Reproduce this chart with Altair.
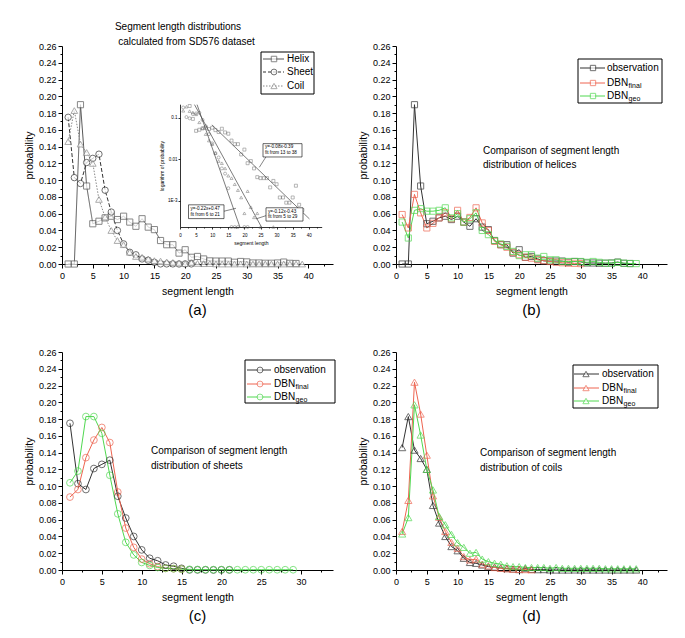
import altair as alt
import pandas as pd

FONT = "Liberation Sans"

# ---------------- data: probability for segment length 1, 2, 3, ... ----------------
helix_obs = [0.000, 0.000, 0.190, 0.093, 0.048, 0.051, 0.055, 0.057, 0.053, 0.057,
             0.050, 0.045, 0.054, 0.044, 0.041, 0.028, 0.023, 0.023, 0.013, 0.017,
             0.008, 0.009, 0.006, 0.0037, 0.0035, 0.0035, 0.0035, 0.0021, 0.003, 0.0025,
             0.0012, 0.0012, 0.0009, 0.0009, 0.0012, 0.0023, 0.0008, 0.0006]
sheet_obs = [0.175, 0.103, 0.096, 0.121, 0.126, 0.131, 0.088, 0.062, 0.040, 0.024,
             0.014, 0.011, 0.006, 0.0045, 0.0020, 0.0001, 0.0001, 0.0001, 0.0, 0.0001, 0.0001]
coil_obs = [0.146, 0.183, 0.143, 0.133, 0.120, 0.077, 0.056, 0.040, 0.028, 0.023,
            0.014, 0.009, 0.008, 0.006, 0.004, 0.0035, 0.0025, 0.0018, 0.0012, 0.0005,
            0.0017, 0.0007, 0.0004, 0.0005, 0.0001, 0.0, 0.0, 0.0, 0.0001, 0.0,
            0.0, 0.0, 0.0, 0.0, 0.0, 0.0, 0.0, 0.0, 0.0]

helix_final = [0.059, 0.043, 0.083, 0.061, 0.043, 0.0485, 0.055, 0.061, 0.054, 0.064,
               0.050, 0.0555, 0.067, 0.049, 0.040, 0.027, 0.023, 0.020, 0.014, 0.011,
               0.008, 0.007, 0.005, 0.004, 0.003, 0.002, 0.0015, 0.001, 0.0008, 0.0005]
helix_geo = [0.050, 0.031, 0.064, 0.066, 0.063, 0.063, 0.064, 0.067, 0.055, 0.060,
             0.050, 0.054, 0.061, 0.040, 0.035, 0.028, 0.024, 0.021, 0.015, 0.010,
             0.011, 0.011, 0.007, 0.009, 0.005, 0.005, 0.003, 0.003, 0.003, 0.003,
             0.002, 0.003, 0.002, 0.001, 0.001, 0.002, 0.001, 0.0005, 0.0005]

sheet_final = [0.087, 0.096, 0.134, 0.155, 0.170, 0.152, 0.093, 0.050, 0.027, 0.013,
               0.0075, 0.004, 0.002, 0.0015, 0.001]
sheet_geo = [0.104, 0.118, 0.183, 0.183, 0.163, 0.113, 0.067, 0.033, 0.018, 0.009,
             0.0055, 0.003, 0.002, 0.0015, 0.001, 0.0008, 0.0006, 0.0005, 0.0004, 0.0004,
             0.0004, 0.0003, 0.0003, 0.0003, 0.0003, 0.0003, 0.0003, 0.0003, 0.0003]

coil_final = [0.046, 0.083, 0.224, 0.186, 0.137, 0.0885, 0.063, 0.046, 0.033, 0.026,
              0.016, 0.012, 0.013, 0.007, 0.005, 0.003, 0.002, 0.0015, 0.001, 0.0008,
              0.0005, 0.0003]
coil_geo = [0.043, 0.0625, 0.197, 0.161, 0.120, 0.0955, 0.064, 0.054, 0.0425, 0.0325,
            0.027, 0.020, 0.021, 0.013, 0.010, 0.008, 0.007, 0.005, 0.004, 0.004,
            0.003, 0.003, 0.003, 0.003, 0.002, 0.003, 0.002, 0.002, 0.002, 0.002,
            0.002, 0.002, 0.002, 0.0015, 0.0015, 0.0015, 0.0015, 0.0015, 0.0015]

# straight-line fits drawn in the log inset: (segment length, probability) end points
fit_names = ["helix fit", "sheet fit", "coil fit"]
fit_x = [[9.9, 40.2], [5.3, 18.6], [4.5, 25.3]]
fit_y = [[0.067, 3.66e-4], [0.205, 2.34e-4], [0.205, 2.34e-4]]
fit_text = [["y=-0.08x-0.39", "fit from 13 to 38"],
            ["y=-0.22x+0.47", "fit from 6 to 21"],
            ["y=-0.12x-0.43", "fit from 5 to 29"]]

# ---------------- layout constants ----------------
PW, PH = 271, 218
OBS, RED, GREEN = "#333333", "#ee6450", "#50d850"
one = alt.Data(values=[{"a": 1}])


def long_df(names, arrays):
    rows = []
    for n, arr in zip(names, arrays):
        for i, v in enumerate(arr):
            rows.append({"series": n, "x": i + 1, "y": v})
    return pd.DataFrame(rows)


def x_enc(xmax):
    vals = []
    v = 0.0
    while v <= xmax:
        vals.append(v)
        v += 2.5
    return alt.X("x:Q", scale=alt.Scale(domain=[0, xmax], nice=False, zero=False),
                 axis=alt.Axis(orient="bottom", values=vals, title="segment length",
                               labelExpr="datum.value % 5 == 0 ? format(datum.value, 'd') : ''",
                               tickSize={"condition": {"test": "datum.value % 5 == 0", "value": 4}, "value": 2},
                               labelFontSize=9, labelPadding=3, titleFontSize=10.5, titlePadding=6,
                               labelFlush=False, labelOverlap=False))


def y_enc():
    vals = [round(i * 0.01, 2) for i in range(27)]
    return alt.Y("y:Q", scale=alt.Scale(domain=[0, 0.26], nice=False),
                 axis=alt.Axis(orient="left", values=vals, title="probability",
                               labelExpr="round(datum.value*100) % 2 == 0 ? format(datum.value, '.2f') : ''",
                               tickSize={"condition": {"test": "round(datum.value*100) % 2 == 0", "value": 4}, "value": 2},
                               labelFontSize=9, labelPadding=2, titleFontSize=10.5, titlePadding=4,
                               labelFlush=False, labelOverlap=False))


def d_text(txt, x, y, size=10, align="left", color="black"):
    return alt.Chart(one).mark_text(text=txt, align=align, baseline="middle", font=FONT,
                                    fontSize=size, color=color).encode(x=alt.value(x), y=alt.value(y))


def d_rect(x0, y0, x1, y1, sw=1):
    return alt.Chart(one).mark_rect(fill="white", stroke="black", strokeWidth=sw).encode(
        x=alt.value(x0), x2=alt.value(x1), y=alt.value(y0), y2=alt.value(y1))


def d_rule(x0, y0, x1, y1, color="black", dash=None, sw=1):
    kw = dict(color=color, strokeWidth=sw)
    if dash:
        kw["strokeDash"] = dash
    return alt.Chart(one).mark_rule(**kw).encode(
        x=alt.value(x0), x2=alt.value(x1), y=alt.value(y0), y2=alt.value(y1))


def d_point(x, y, shape, color, size):
    return alt.Chart(one).mark_point(shape=shape, strokeWidth=1).encode(
        x=alt.value(x), y=alt.value(y), fill=alt.value("white"), stroke=alt.value(color),
        size=alt.value(size))


def legend_layers(box, entries, lx0, lx1, mx, tx):
    layers = [d_rect(*box)]
    for label, sub, color, dash, shape, size, yy in entries:
        layers.append(d_rule(lx0, yy, lx1, yy, color, dash))
        layers.append(d_point(mx, yy, shape, color, size))
        layers.append(d_text(label, tx, yy, 10))
        if sub:
            layers.append(d_text(sub, tx + 21.6, yy + 2.5, 7))
    return layers


# ---------------- panel (a) ----------------
names_a = ["Helix", "Sheet", "Coil"]
df_a = long_df(names_a, [helix_obs, sheet_obs, coil_obs])
col_a = alt.Color("series:N", scale=alt.Scale(domain=names_a, range=["#555555", "#333333", "#888888"]), legend=None)
stroke_a = alt.Stroke("series:N", scale=alt.Scale(domain=names_a, range=["#555555", "#333333", "#888888"]), legend=None)
dash_a = alt.StrokeDash("series:N", scale=alt.Scale(domain=names_a, range=[[1, 0], [4, 2], [1.5, 1.5]]), legend=None)
shape_a = alt.Shape("series:N", scale=alt.Scale(domain=names_a, range=["square", "circle", "triangle-up"]), legend=None)
size_a = alt.Size("series:N", scale=alt.Scale(domain=names_a, range=[38, 44, 50]), legend=None)

Xa, Ya = x_enc(44), y_enc()
lines_a = alt.Chart(df_a).mark_line(strokeWidth=1).encode(x=Xa, y=Ya, color=col_a, strokeDash=dash_a)
pts_a = alt.Chart(df_a).mark_point(strokeWidth=1).encode(x=Xa, y=Ya, stroke=stroke_a, shape=shape_a,
                                                         size=size_a, fill=alt.value("white"))


def P(px, py):  # position inside panel (a) measured on the reference picture
    return px - 61, (py - 48) * PH / 221


deco_a = [
    d_text("Segment length distributions", 116, P(0, 29)[1], 10, "center"),
    d_text("calculated from SD576 dataset", 124.5, P(0, 44)[1], 10, "center"),
]
deco_a += legend_layers(
    (199, 6, 252, 48),
    [("Helix", "", "#555555", None, "square", 30, 13),
     ("Sheet", "", "#333333", [3, 2], "circle", 34, 26),
     ("Coil", "", "#888888", [1.5, 1.5], "triangle-up", 38, 40)],
    201, 222, 212, 225)
main_a = alt.layer(lines_a, pts_a, *deco_a)

# inset (log scale)
ix0, ix1 = P(179, 0)[0], P(179 + 44 * 3.22, 0)[0]
iy0, iy1 = P(0, 231.5)[1], P(0, 107)[1]
inset_df = df_a[df_a["y"] > 0]
IX = alt.X("x:Q", scale=alt.Scale(domain=[0, 44], range=[ix0, ix1], nice=False, zero=False),
           axis=alt.Axis(orient="bottom", offset=-(PH - iy0), values=[i * 2.5 for i in range(18)],
                         labelExpr="datum.value % 5 == 0 ? format(datum.value, 'd') : ''",
                         tickSize={"condition": {"test": "datum.value % 5 == 0", "value": 2}, "value": 1},
                         labelFontSize=4.5, labelPadding=3, title="segment length", titleFontSize=5,
                         titlePadding=4, labelFlush=False, labelOverlap=False, domainWidth=0.8, tickWidth=0.8))
IY = alt.Y("y:Q", scale=alt.Scale(type="log", domain=[2.34e-4, 0.21], range=[iy0, iy1], clamp=True, nice=False),
           axis=alt.Axis(orient="left", offset=-ix0, values=[0.001, 0.01, 0.1],
                         labelExpr="datum.value > 0.05 ? '0.1' : datum.value > 0.005 ? '0.01' : '1E-3'",
                         tickSize=2, labelFontSize=4.5, labelPadding=1, title="logarithm of probability",
                         titleFontSize=5, titlePadding=3, labelOverlap=False, domainWidth=0.8, tickWidth=0.8))
inset_pts = alt.Chart(inset_df).mark_point(size=9, strokeWidth=0.6, filled=False, color="#555555").encode(
    x=IX, y=IY, shape=shape_a)
fit_rows = []
for n, xs, ys in zip(fit_names, fit_x, fit_y):
    for xv, yv in zip(xs, ys):
        fit_rows.append({"fit": n, "x": xv, "y": yv})
fit_lines = alt.Chart(pd.DataFrame(fit_rows)).mark_line(color="#444444", strokeWidth=0.7).encode(
    x=IX, y=IY, detail="fit:N")

box_pos = [((262, 147, 301, 160.5), (264, 150.8, 156.8), ((265, 160.3), (258.3, 171))),
           ((187.5, 209, 223, 223), (189.5, 213, 219), ((223, 215.5), (235, 212.5))),
           ((265, 212, 302, 225.5), (267, 215.8, 221.8), ((265, 220), (255, 223.3)))]
deco_inset = []
for (bx, tp, ar), lines_txt in zip(box_pos, fit_text):
    x0, y0 = P(bx[0], bx[1])
    x1, y1 = P(bx[2], bx[3])
    a0, a1 = P(*ar[0]), P(*ar[1])
    deco_inset.append(d_rule(a0[0], a0[1], a1[0], a1[1], "#333333", None, 0.6))
    deco_inset.append(d_rect(x0, y0, x1, y1, 0.6))
    deco_inset.append(d_text(lines_txt[0], P(tp[0], 0)[0], P(0, tp[1])[1], 4.6))
    deco_inset.append(d_text(lines_txt[1], P(tp[0], 0)[0], P(0, tp[2])[1], 4.6))
inset_a = alt.layer(fit_lines, inset_pts, *deco_inset)

panel_a = alt.layer(main_a, inset_a, d_text("(a)", PW / 2, PH + 46, 15, "center")).resolve_scale(
    x="independent", y="independent").properties(width=PW, height=PH)


# ---------------- panels (b), (c), (d) ----------------
def comparison_panel(obs, final, geo, shape, msize, xmax, leg, note, caption):
    names = ["observation", "DBNfinal", "DBNgeo"]
    colors = [OBS, RED, GREEN]
    df = long_df(names, [obs, final, geo])
    X, Y = x_enc(xmax), y_enc()
    col = alt.Color("series:N", scale=alt.Scale(domain=names, range=colors), legend=None)
    lines = alt.Chart(df).mark_line(strokeWidth=1).encode(x=X, y=Y, color=col)
    pts = alt.Chart(df).mark_point(shape=shape, size=msize, strokeWidth=1, filled=False).encode(
        x=X, y=Y, color=col)
    box, ys, lx0, lx1, mx, tx = leg
    lsize = msize * 0.75
    layers = legend_layers(box, [("observation", "", OBS, None, shape, lsize, ys[0]),
                                 ("DBN", "final", RED, None, shape, lsize, ys[1]),
                                 ("DBN", "geo", GREEN, None, shape, lsize, ys[2])],
                           lx0, lx1, mx, tx)
    nx, ny0, ny1, l0, l1 = note
    layers += [d_text(l0, nx, ny0, 10), d_text(l1, nx, ny1, 10),
               d_text(caption, PW / 2, PH + 46, 15, "center")]
    return alt.layer(lines, pts, *layers).properties(width=PW, height=PH)


panel_b = comparison_panel(helix_obs, helix_final, helix_geo, "square", 38, 44,
                           ((182, 13, 266, 57), (22, 37, 50), 184, 209, 197, 211),
                           (87, 105, 119, "Comparison of segment length", "distribution of helices"), "(b)")
panel_c = comparison_panel(sheet_obs, sheet_final, sheet_geo, "circle", 46, 34,
                           ((183, 8, 273, 51), (18, 32, 45), 185, 209, 198, 212),
                           (89, 99, 114, "Comparison of segment length", "distribution of sheets"), "(c)")
panel_d = comparison_panel(coil_obs, coil_final, coil_geo, "triangle-up", 52, 44,
                           ((177, 13, 262, 56), (22, 36, 49), 178, 203, 190, 206),
                           (84, 101, 116, "Comparison of segment length", "distribution of coils"), "(d)")

chart = alt.concat(panel_a, panel_b, panel_c, panel_d, columns=2,
                   spacing={"row": 88, "column": 63}, bounds="flush").resolve_scale(
    color="independent", stroke="independent", shape="independent", size="independent",
    strokeDash="independent"
).properties(
    padding={"left": 16, "top": 14, "right": 3, "bottom": 2}
).configure_view(stroke=None).configure_axis(
    domainColor="black", tickColor="black", labelColor="black", titleColor="black",
    labelFont=FONT, titleFont=FONT, titleFontWeight="normal", grid=False,
    domainWidth=1, tickWidth=1)

chart.save("out.html", embed_options={"renderer": "svg", "actions": False})
